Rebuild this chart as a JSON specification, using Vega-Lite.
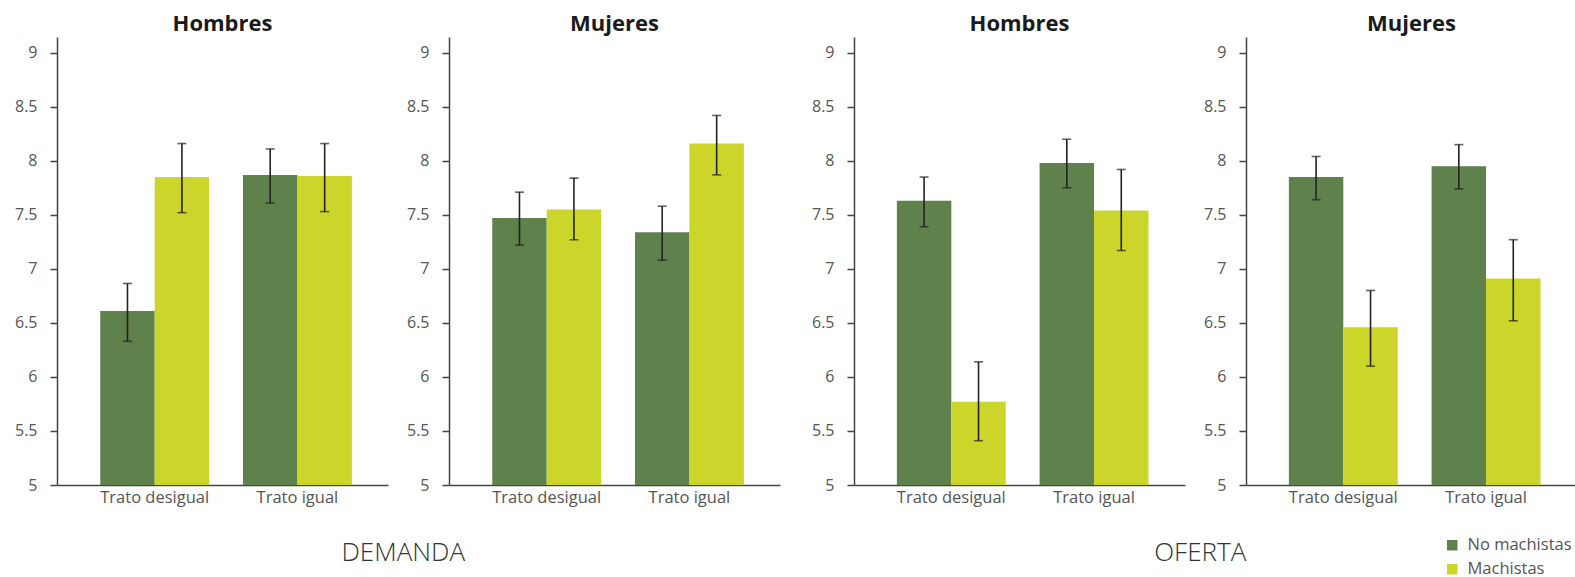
{
  "$schema": "https://vega.github.io/schema/vega-lite/v6.json",
  "padding": {"left": 14, "top": 13, "right": 0, "bottom": 0},
  "background": "white",
  "data": {"values": [
    {"panel": "D-Hombres", "trato": "Trato desigual", "grupo": "No machistas", "valor": 6.61, "lo": 6.33, "hi": 6.865},
    {"panel": "D-Hombres", "trato": "Trato desigual", "grupo": "Machistas", "valor": 7.85, "lo": 7.52, "hi": 8.16},
    {"panel": "D-Hombres", "trato": "Trato igual", "grupo": "No machistas", "valor": 7.87, "lo": 7.61, "hi": 8.11},
    {"panel": "D-Hombres", "trato": "Trato igual", "grupo": "Machistas", "valor": 7.86, "lo": 7.53, "hi": 8.16},
    {"panel": "D-Mujeres", "trato": "Trato desigual", "grupo": "No machistas", "valor": 7.47, "lo": 7.22, "hi": 7.71},
    {"panel": "D-Mujeres", "trato": "Trato desigual", "grupo": "Machistas", "valor": 7.55, "lo": 7.27, "hi": 7.84},
    {"panel": "D-Mujeres", "trato": "Trato igual", "grupo": "No machistas", "valor": 7.34, "lo": 7.08, "hi": 7.58},
    {"panel": "D-Mujeres", "trato": "Trato igual", "grupo": "Machistas", "valor": 8.16, "lo": 7.87, "hi": 8.42},
    {"panel": "O-Hombres", "trato": "Trato desigual", "grupo": "No machistas", "valor": 7.63, "lo": 7.39, "hi": 7.85},
    {"panel": "O-Hombres", "trato": "Trato desigual", "grupo": "Machistas", "valor": 5.77, "lo": 5.41, "hi": 6.14},
    {"panel": "O-Hombres", "trato": "Trato igual", "grupo": "No machistas", "valor": 7.98, "lo": 7.75, "hi": 8.2},
    {"panel": "O-Hombres", "trato": "Trato igual", "grupo": "Machistas", "valor": 7.54, "lo": 7.17, "hi": 7.92},
    {"panel": "O-Mujeres", "trato": "Trato desigual", "grupo": "No machistas", "valor": 7.85, "lo": 7.64, "hi": 8.04},
    {"panel": "O-Mujeres", "trato": "Trato desigual", "grupo": "Machistas", "valor": 6.46, "lo": 6.1, "hi": 6.8},
    {"panel": "O-Mujeres", "trato": "Trato igual", "grupo": "No machistas", "valor": 7.95, "lo": 7.74, "hi": 8.15},
    {"panel": "O-Mujeres", "trato": "Trato igual", "grupo": "Machistas", "valor": 6.91, "lo": 6.52, "hi": 7.27}
  ]},
  "spacing": 31,
  "hconcat": [
    {
      "title": {"text": "DEMANDA", "orient": "bottom", "anchor": "middle", "fontSize": 26, "fontWeight": 300, "color": "#333", "offset": 34, "dx": 6},
      "spacing": 18,
      "hconcat": [
        {
          "title": "Hombres",
          "width": 331, "height": 448,
          "transform": [{"filter": "datum.panel === 'D-Hombres'"}],
          "encoding": {
            "x": {"field": "trato", "type": "nominal", "sort": ["Trato desigual", "Trato igual"], "scale": {"paddingInner": 0.237, "paddingOuter": 0.278, "align": 0.545}, "axis": {"title": null}},
            "xOffset": {"field": "grupo", "type": "nominal", "sort": ["No machistas", "Machistas"], "scale": {"paddingInner": 0, "paddingOuter": 0}}
          },
          "layer": [
            {"mark": {"type": "bar"}, "encoding": {"y": {"field": "valor", "type": "quantitative", "scale": {"domain": [5, 9.146], "zero": false, "nice": false}, "axis": {"title": null, "values": [5, 5.5, 6, 6.5, 7, 7.5, 8, 8.5, 9], "labelExpr": "'' + datum.value"}}, "y2": {"datum": 5}, "color": {"field": "grupo", "type": "nominal", "sort": ["No machistas", "Machistas"], "scale": {"domain": ["No machistas", "Machistas"], "range": ["#5f814c", "#cbd52a"]}, "legend": {"title": null}}}},
            {"mark": {"type": "rule", "color": "#222", "strokeWidth": 1.6}, "encoding": {"y": {"field": "lo", "type": "quantitative"}, "y2": {"field": "hi"}}},
            {"mark": {"type": "tick", "color": "#222", "size": 9, "thickness": 1.6}, "encoding": {"y": {"field": "lo", "type": "quantitative"}}},
            {"mark": {"type": "tick", "color": "#222", "size": 9, "thickness": 1.6}, "encoding": {"y": {"field": "hi", "type": "quantitative"}}}
          ]
        },
        {
          "title": "Mujeres",
          "width": 331, "height": 448,
          "transform": [{"filter": "datum.panel === 'D-Mujeres'"}],
          "encoding": {
            "x": {"field": "trato", "type": "nominal", "sort": ["Trato desigual", "Trato igual"], "scale": {"paddingInner": 0.237, "paddingOuter": 0.278, "align": 0.545}, "axis": {"title": null}},
            "xOffset": {"field": "grupo", "type": "nominal", "sort": ["No machistas", "Machistas"], "scale": {"paddingInner": 0, "paddingOuter": 0}}
          },
          "layer": [
            {"mark": {"type": "bar"}, "encoding": {"y": {"field": "valor", "type": "quantitative", "scale": {"domain": [5, 9.146], "zero": false, "nice": false}, "axis": {"title": null, "values": [5, 5.5, 6, 6.5, 7, 7.5, 8, 8.5, 9], "labelExpr": "'' + datum.value"}}, "y2": {"datum": 5}, "color": {"field": "grupo", "type": "nominal", "sort": ["No machistas", "Machistas"], "scale": {"domain": ["No machistas", "Machistas"], "range": ["#5f814c", "#cbd52a"]}, "legend": {"title": null}}}},
            {"mark": {"type": "rule", "color": "#222", "strokeWidth": 1.6}, "encoding": {"y": {"field": "lo", "type": "quantitative"}, "y2": {"field": "hi"}}},
            {"mark": {"type": "tick", "color": "#222", "size": 9, "thickness": 1.6}, "encoding": {"y": {"field": "lo", "type": "quantitative"}}},
            {"mark": {"type": "tick", "color": "#222", "size": 9, "thickness": 1.6}, "encoding": {"y": {"field": "hi", "type": "quantitative"}}}
          ]
        }
      ]
    },
    {
      "title": {"text": "OFERTA", "orient": "bottom", "anchor": "middle", "fontSize": 26, "fontWeight": 300, "color": "#333", "offset": 34, "dx": 6},
      "spacing": 18,
      "hconcat": [
        {
          "title": "Hombres",
          "width": 331, "height": 448,
          "transform": [{"filter": "datum.panel === 'O-Hombres'"}],
          "encoding": {
            "x": {"field": "trato", "type": "nominal", "sort": ["Trato desigual", "Trato igual"], "scale": {"paddingInner": 0.237, "paddingOuter": 0.278, "align": 0.54}, "axis": {"title": null}},
            "xOffset": {"field": "grupo", "type": "nominal", "sort": ["No machistas", "Machistas"], "scale": {"paddingInner": 0, "paddingOuter": 0}}
          },
          "layer": [
            {"mark": {"type": "bar"}, "encoding": {"y": {"field": "valor", "type": "quantitative", "scale": {"domain": [5, 9.146], "zero": false, "nice": false}, "axis": {"title": null, "values": [5, 5.5, 6, 6.5, 7, 7.5, 8, 8.5, 9], "labelExpr": "'' + datum.value"}}, "y2": {"datum": 5}, "color": {"field": "grupo", "type": "nominal", "sort": ["No machistas", "Machistas"], "scale": {"domain": ["No machistas", "Machistas"], "range": ["#5f814c", "#cbd52a"]}, "legend": {"title": null}}}},
            {"mark": {"type": "rule", "color": "#222", "strokeWidth": 1.6}, "encoding": {"y": {"field": "lo", "type": "quantitative"}, "y2": {"field": "hi"}}},
            {"mark": {"type": "tick", "color": "#222", "size": 9, "thickness": 1.6}, "encoding": {"y": {"field": "lo", "type": "quantitative"}}},
            {"mark": {"type": "tick", "color": "#222", "size": 9, "thickness": 1.6}, "encoding": {"y": {"field": "hi", "type": "quantitative"}}}
          ]
        },
        {
          "title": "Mujeres",
          "width": 331, "height": 448,
          "transform": [{"filter": "datum.panel === 'O-Mujeres'"}],
          "encoding": {
            "x": {"field": "trato", "type": "nominal", "sort": ["Trato desigual", "Trato igual"], "scale": {"paddingInner": 0.237, "paddingOuter": 0.278, "align": 0.54}, "axis": {"title": null}},
            "xOffset": {"field": "grupo", "type": "nominal", "sort": ["No machistas", "Machistas"], "scale": {"paddingInner": 0, "paddingOuter": 0}}
          },
          "layer": [
            {"mark": {"type": "bar"}, "encoding": {"y": {"field": "valor", "type": "quantitative", "scale": {"domain": [5, 9.146], "zero": false, "nice": false}, "axis": {"title": null, "values": [5, 5.5, 6, 6.5, 7, 7.5, 8, 8.5, 9], "labelExpr": "'' + datum.value"}}, "y2": {"datum": 5}, "color": {"field": "grupo", "type": "nominal", "sort": ["No machistas", "Machistas"], "scale": {"domain": ["No machistas", "Machistas"], "range": ["#5f814c", "#cbd52a"]}, "legend": {"title": null}}}},
            {"mark": {"type": "rule", "color": "#222", "strokeWidth": 1.6}, "encoding": {"y": {"field": "lo", "type": "quantitative"}, "y2": {"field": "hi"}}},
            {"mark": {"type": "tick", "color": "#222", "size": 9, "thickness": 1.6}, "encoding": {"y": {"field": "lo", "type": "quantitative"}}},
            {"mark": {"type": "tick", "color": "#222", "size": 9, "thickness": 1.6}, "encoding": {"y": {"field": "hi", "type": "quantitative"}}}
          ]
        }
      ]
    }
  ],
  "config": {
    "font": "Open Sans",
    "view": {"stroke": null},
    "axis": {"grid": false, "domainColor": "#444", "domainWidth": 1.5, "tickColor": "#444", "tickWidth": 1.5, "labelFont": "Open Sans", "labelFontSize": 16, "labelColor": "#555"},
    "axisY": {"tickSize": 7, "labelPadding": 13},
    "axisX": {"ticks": false, "labelPadding": 4, "labelAngle": 0, "labelFontSize": 16.5},
    "title": {"font": "Open Sans", "fontSize": 22, "fontWeight": "bold", "color": "#1a1a1a", "offset": 1},
    "legend": {"orient": "none", "legendX": 1387, "legendY": 500, "symbolType": "square", "symbolSize": 110, "symbolStrokeWidth": 0, "symbolOpacity": 1, "labelFontSize": 16.5, "labelColor": "#555", "labelFont": "Open Sans", "rowPadding": 7, "labelOffset": 7}
  }
}
